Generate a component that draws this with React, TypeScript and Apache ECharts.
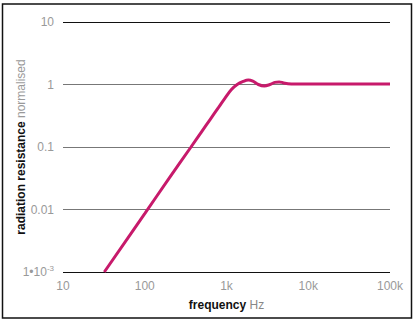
import React, { useEffect, useRef } from "react";
import * as echarts from "echarts";

const frequencies = [32, 100, 200, 368, 500, 630, 800, 955, 1150, 1350, 1600, 1850, 2100, 2450, 2900, 3400, 3900, 4400, 5000, 5650, 7000, 10000, 30000, 100000];
const resistance = [0.001, 0.0086, 0.032, 0.1, 0.178, 0.275, 0.43, 0.6, 0.83, 1.0, 1.12, 1.18, 1.13, 1.0, 0.95, 1.0, 1.08, 1.1, 1.06, 1.03, 1.02, 1.02, 1.02, 1.02];

const xTickLabels: Record<string, string> = { "10": "10", "100": "100", "1000": "1k", "10000": "10k", "100000": "100k" };
const yTickLabels: Record<string, string> = { "10": "10", "1": "1", "0.1": "0.1", "0.01": "0.01", "0.001": "{a|1•10}{s|-3}" };

const FONT = "'Liberation Sans', Arial, sans-serif";

export default function App() {
  const ref = useRef<HTMLDivElement>(null);
  useEffect(() => {
    document.body.style.margin = "0";
    if (!ref.current) return;
    const chart = echarts.init(ref.current, null, { renderer: "svg" });
    const data = frequencies.map((f, i) => [f, resistance[i]]);
    chart.setOption({
      animation: false,
      backgroundColor: "#fff",
      grid: { left: 63, right: 26, top: 22, bottom: 52, outerBoundsMode: "none", containLabel: false },
      xAxis: {
        type: "log",
        logBase: 10,
        min: 10,
        max: 100000,
        axisLine: { show: false },
        axisTick: { show: false },
        splitLine: { show: false },
        axisLabel: {
          color: "#999",
          fontFamily: FONT,
          fontSize: 12,
          margin: 8,
          formatter: (v: number) => xTickLabels[String(Math.round(v))] ?? "",
        },
        name: "{b|frequency} {n|Hz}",
        nameLocation: "middle",
        nameGap: 27,
        nameMoveOverlap: false,
        nameTextStyle: {
          rich: {
            b: { fontFamily: FONT, fontWeight: "bold", fontSize: 12, color: "#111" },
            n: { fontFamily: FONT, fontSize: 12, color: "#888" },
          },
        },
      },
      yAxis: {
        type: "log",
        logBase: 10,
        min: 0.001,
        max: 10,
        axisLine: { show: false },
        axisTick: { show: false },
        splitLine: {
          show: true,
          lineStyle: { color: ["#111", "#777", "#777", "#777", "#111"], width: 1 },
        },
        axisLabel: {
          color: "#999",
          fontFamily: FONT,
          fontSize: 12,
          margin: 9,
          formatter: (v: number) => {
            const key = String(parseFloat(v.toPrecision(3)));
            return yTickLabels[key] ?? "";
          },
          rich: {
            a: { color: "#999", fontFamily: FONT, fontSize: 12 },
            s: { color: "#999", fontFamily: FONT, fontSize: 8, padding: [0, 0, 8, 0] },
          },
        },
        name: "{b|radiation resistance} {n|normalised}",
        nameLocation: "middle",
        nameGap: 36,
        nameMoveOverlap: false,
        nameTextStyle: {
          rich: {
            b: { fontFamily: FONT, fontWeight: "bold", fontSize: 12, color: "#111" },
            n: { fontFamily: FONT, fontSize: 12, color: "#999" },
          },
        },
      },
      graphic: [
        {
          type: "rect",
          shape: { x: 2.5, y: 4, width: 409, height: 314 },
          style: { fill: "none", stroke: "#111", lineWidth: 1.5 },
          silent: true,
        },
      ],
      series: [
        {
          type: "line",
          data,
          smooth: 0.4,
          symbol: "none",
          lineStyle: { color: "#c71a6b", width: 3 },
        },
      ],
    });
    return () => chart.dispose();
  }, []);
  return <div ref={ref} style={{ width: 416, height: 324 }} />;
}
